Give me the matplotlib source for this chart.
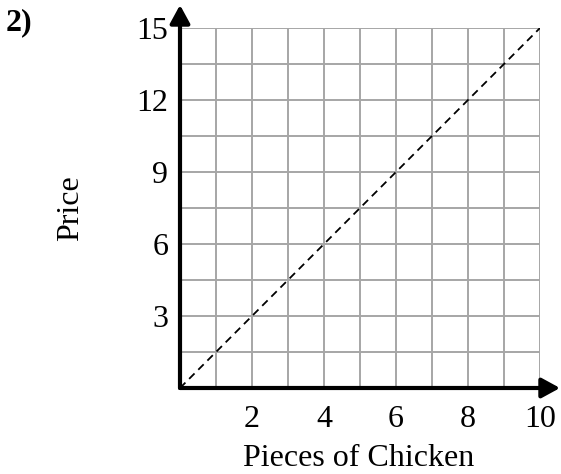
import matplotlib
matplotlib.use("Agg")
import matplotlib.pyplot as plt
import numpy as np

plt.rcParams['font.family'] = ['Liberation Serif', 'DejaVu Serif']
plt.rcParams['lines.scale_dashes'] = False

# data
chicken = [0, 10]
price = [0, 15]
x_ticks = [2, 4, 6, 8, 10]
y_ticks = [3, 6, 9, 12, 15]
x_grid = np.arange(0, 11, 1)
y_grid = np.arange(0, 15.1, 1.5)
x_label = "Pieces of Chicken"
y_label = "Price"
problem = "2)"

FS = 23
W, H = 561, 474
fig = plt.figure(figsize=(W / 100, H / 100), dpi=100)
ax = fig.add_axes([180 / W, (H - 388) / H, 360 / W, 360 / H])
ax.set_xlim(0, 10)
ax.set_ylim(0, 15)

ax.set_xticks(x_grid, minor=True)
ax.set_yticks(y_grid, minor=True)
ax.set_xticks(x_ticks)
ax.set_yticks(y_ticks)
ax.set_xticklabels([str(t) for t in x_ticks])
ax.set_yticklabels([str(t) for t in y_ticks])
ax.grid(which='both', color='#a6a6a6', linewidth=1.4)
ax.set_axisbelow(True)
ax.tick_params(which='both', length=0)
ax.tick_params(axis='x', pad=12, labelsize=FS)
ax.tick_params(axis='y', pad=8.5, labelsize=FS)
for s in ax.spines.values():
    s.set_visible(False)

ax.plot(chicken, price, color='black', linewidth=1.3, dashes=(5.5, 3.8))

# axes with arrows
arrow = dict(arrowstyle='-|>,head_length=0.55,head_width=0.3', lw=3, color='black',
             mutation_scale=20, shrinkA=0, shrinkB=0)
ax.annotate('', xy=(0, (388 - 5) / 360), xytext=(0, 0), xycoords='axes fraction',
            textcoords='axes fraction', arrowprops=arrow, annotation_clip=False)
ax.annotate('', xy=((560 - 180) / 360, 0), xytext=(0, 0), xycoords='axes fraction',
            textcoords='axes fraction', arrowprops=arrow, annotation_clip=False)

fig.text(359 / W, 1 - 458 / H, x_label, ha='center', va='center', fontsize=FS)
fig.text(71 / W, 1 - 208 / H, y_label, ha='center', va='center', rotation=90, fontsize=FS)
fig.text(6 / W, 1 - 8 / H, problem, ha='left', va='top', fontsize=FS, fontweight='bold')

fig.savefig('out.png', dpi=100)
